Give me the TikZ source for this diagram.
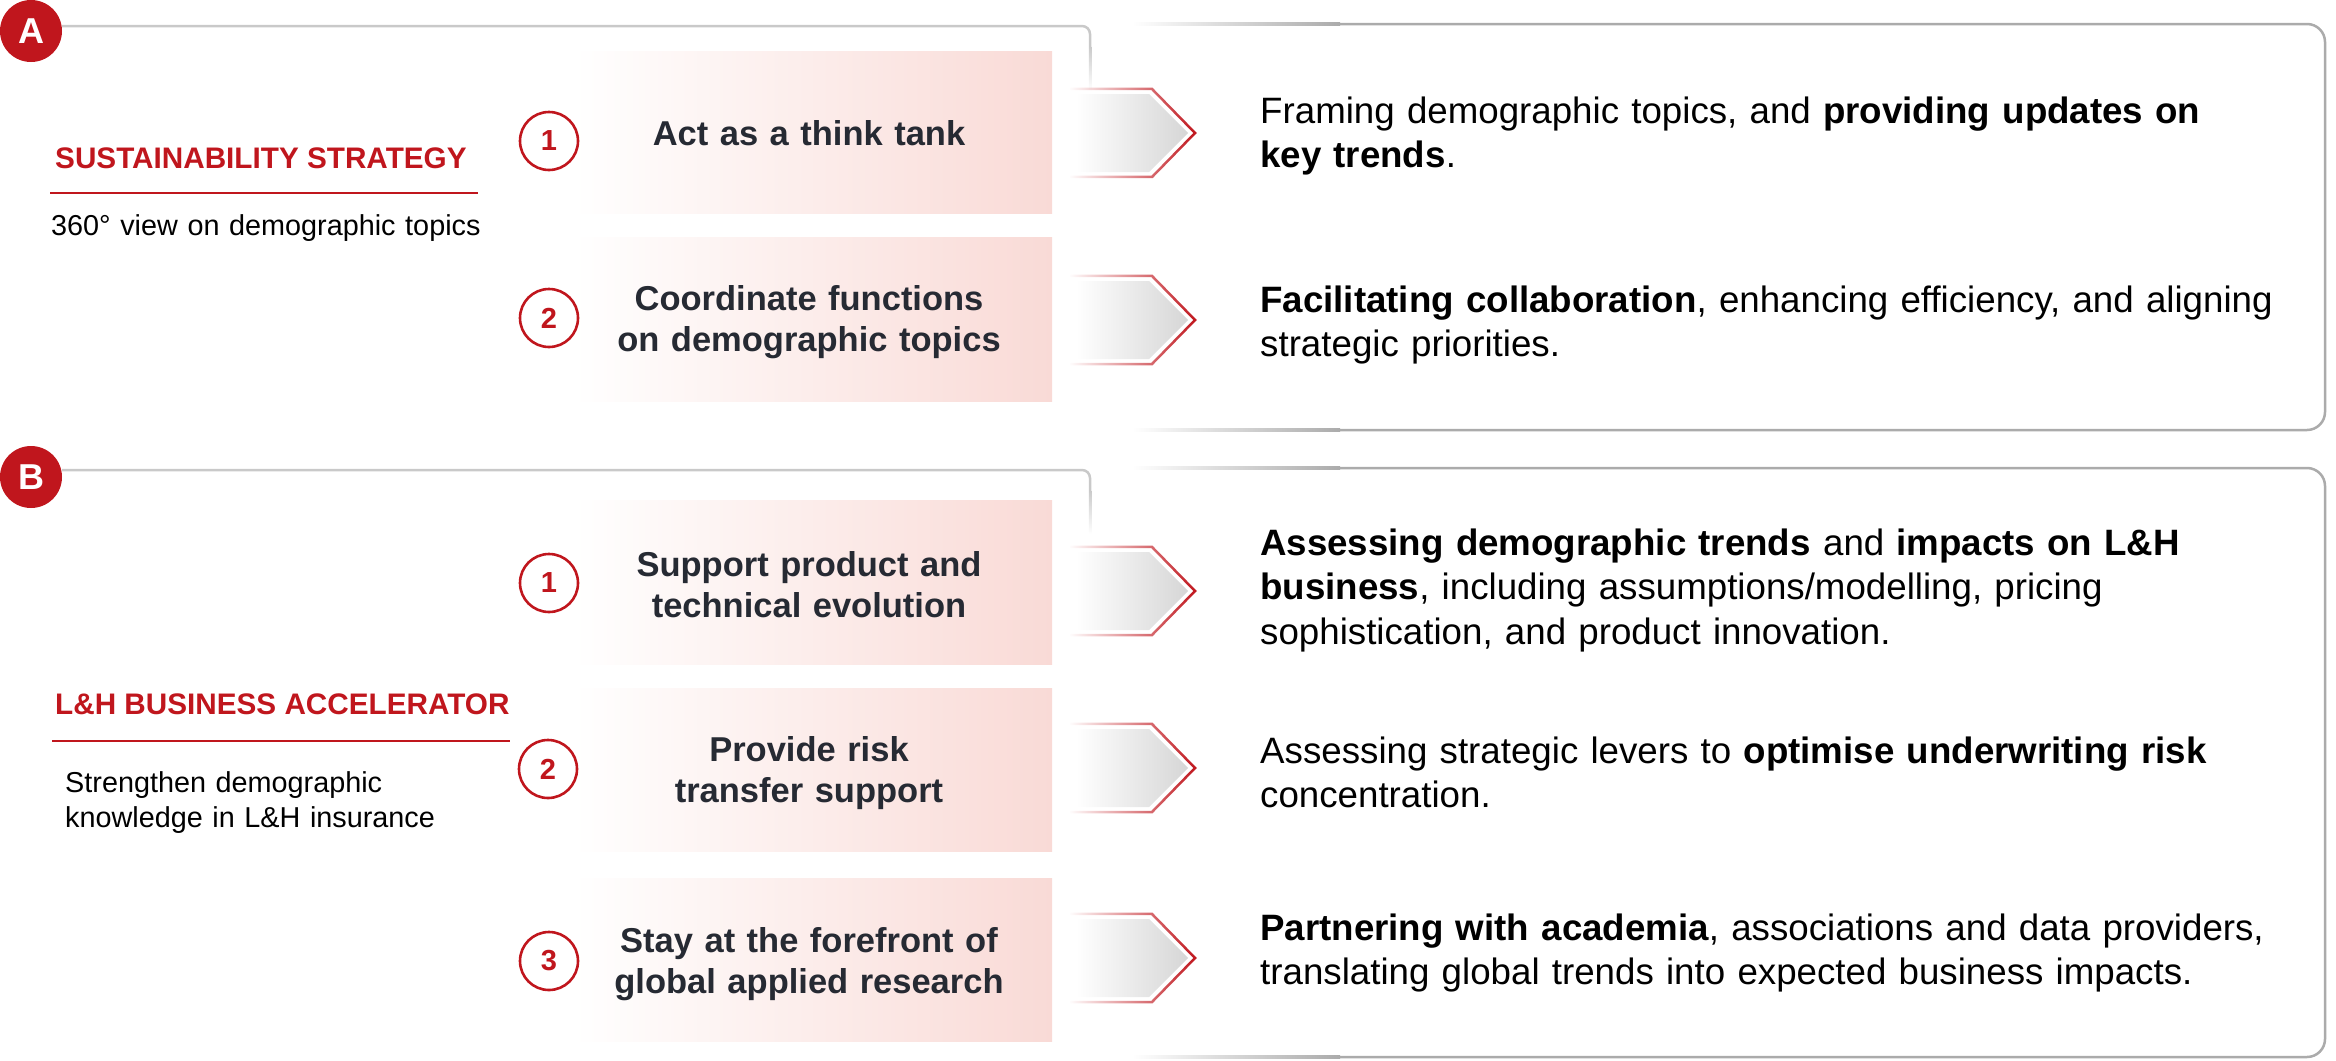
\documentclass[tikz,border=0pt]{standalone}
\usepackage{fontspec}
\setmainfont{Liberation Sans}
\usetikzlibrary{fadings}

\definecolor{brandred}{HTML}{C0161D}
\definecolor{framegray}{HTML}{C9C9C9}
\definecolor{cardgray}{HTML}{ABABAB}
\definecolor{boxpink}{HTML}{F9DAD6}
\definecolor{boxtext}{HTML}{262A33}
\definecolor{chevgray}{HTML}{D6D6D6}

% stroke that is transparent on the left and opaque on the right
\tikzfading[name=fadeleft, left color=transparent!100, right color=transparent!0]

\tikzset{
  badge/.style={circle, fill=brandred, text=white, inner sep=0pt, minimum size=62pt,
    font=\fontsize{36}{36}\selectfont\bfseries},
  numcirc/.style={circle, draw=brandred, line width=2.6pt, fill=white, text=brandred,
    inner sep=0pt, minimum size=58pt, font=\fontsize{29}{29}\selectfont\bfseries},
  taskbox/.style={left color=white, right color=boxpink},
  tasktext/.style={anchor=base, align=center, text width=480pt, inner sep=0pt,
    text=boxtext, font=\fontsize{34.5}{41.5}\selectfont\bfseries},
  desctext/.style={anchor=base west, align=left, text width=1060pt, inner sep=0pt,
    text=black, font=\fontsize{36.7}{44.5}\selectfont},
  sectitle/.style={anchor=base west, inner sep=0pt, text=brandred,
    font=\fontsize{29.7}{29.7}\selectfont\bfseries},
  secsub/.style={anchor=base west, align=left, text width=520pt, inner sep=0pt,
    font=\fontsize{28.8}{35}\selectfont},
  titlerule/.style={brandred, line width=2.5pt},
  leftframe/.style={framegray, line width=2.5pt, rounded corners=8pt},
  rightcard/.style={cardgray, line width=2.5pt, rounded corners=18pt},
}

% chevron pointing right, centred on the given y
\newcommand\drawchevron[1]{%
  \draw[brandred, line width=2.5pt, line join=miter, path fading=fadeleft]
    (1070,{#1-44}) -- (1152,{#1-44}) -- (1195,#1) -- (1152,{#1+44}) -- (1070,{#1+44});
  \shade[left color=white, right color=chevgray]
    (1076,{#1-39}) -- (1149,{#1-39}) -- (1188,#1) -- (1149,{#1+39}) -- (1076,{#1+39}) -- cycle;
}

% left frame: top rule with a right side fading downwards
\newcommand\drawleftframe[1]{%
  \draw[leftframe] (62,#1) -- (1090,#1) -- (1090,{#1+20});
  \shade[top color=framegray, bottom color=white]
    (1088.75,{#1+20}) rectangle (1091.25,{#1+64});
}

% right card: rounded outline whose left ends fade out
\newcommand\drawrightcard[2]{%
  \draw[rightcard] (1340,#1) -- (2325,#1) -- (2325,#2) -- (1340,#2);
  \shade[left color=white, right color=cardgray] (1132,{#1-1.25}) rectangle (1340,{#1+1.25});
  \shade[left color=white, right color=cardgray] (1132,{#2-1.25}) rectangle (1340,{#2+1.25});
}

\begin{document}
\begin{tikzpicture}[x=1pt,y=-1pt]
\useasboundingbox (0,0) rectangle (2336,1060);

% ---------------- section A ----------------
\drawleftframe{26}
\drawrightcard{24}{430}

\shade[taskbox] (574,51) rectangle (1052,213);
\shade[taskbox] (574,237) rectangle (1052,401);

\drawchevron{133}
\drawchevron{320}

\node[badge] (badgeA) at (31,31) {A};

\node[sectitle] (titleA) at (55,168) {SUSTAINABILITY STRATEGY};
\coordinate (ruleAl) at (50,193);
\coordinate (ruleAr) at (478,193);
\draw[titlerule] (ruleAl) -- (ruleAr);
\node[secsub] (subA) at (51,235) {360° view on demographic topics};

\node[numcirc] (numA1) at (549,141) {1};
\node[numcirc] (numA2) at (549,318) {2};

\node[tasktext] (taskA1) at (809,145) {Act as a think tank};
\node[tasktext] (taskA2) at (809,310) {Coordinate functions\\on demographic topics};

\node[desctext] (descA1) at (1260,123)
  {Framing demographic topics, and \textbf{providing updates on}\\\textbf{key trends}.};
\node[desctext] (descA2) at (1260,312)
  {\textbf{Facilitating collaboration}, enhancing efficiency, and aligning\\strategic priorities.};

% ---------------- section B ----------------
\drawleftframe{470}
\drawrightcard{468}{1057}

\shade[taskbox] (574,500) rectangle (1052,664);
\shade[taskbox] (574,688) rectangle (1052,851);
\shade[taskbox] (574,878) rectangle (1052,1041);

\drawchevron{591}
\drawchevron{768}
\drawchevron{958}

\node[badge] (badgeB) at (31,477) {B};

\node[sectitle] (titleB) at (55,714) {L\&H BUSINESS ACCELERATOR};
\coordinate (ruleBl) at (52,741);
\coordinate (ruleBr) at (510,741);
\draw[titlerule] (ruleBl) -- (ruleBr);
\node[secsub] (subB) at (65,792) {Strengthen demographic\\knowledge in L\&H insurance};

\node[numcirc] (numB1) at (549,583) {1};
\node[numcirc] (numB2) at (548,769) {2};
\node[numcirc] (numB3) at (549,961) {3};

\node[tasktext] (taskB1) at (809,576) {Support product and\\technical evolution};
\node[tasktext] (taskB2) at (809,761) {Provide risk\\transfer support};
\node[tasktext] (taskB3) at (809,952) {Stay at the forefront of\\global applied research};

\node[desctext] (descB1) at (1260,555)
  {\textbf{Assessing demographic trends} and \textbf{impacts on L\&H}\\\textbf{business}, including assumptions/modelling, pricing\\sophistication, and product innovation.};
\node[desctext] (descB2) at (1260,763)
  {Assessing strategic levers to \textbf{optimise underwriting risk}\\concentration.};
\node[desctext] (descB3) at (1260,940)
  {\textbf{Partnering with academia}, associations and data providers,\\translating global trends into expected business impacts.};

\end{tikzpicture}
\end{document}
